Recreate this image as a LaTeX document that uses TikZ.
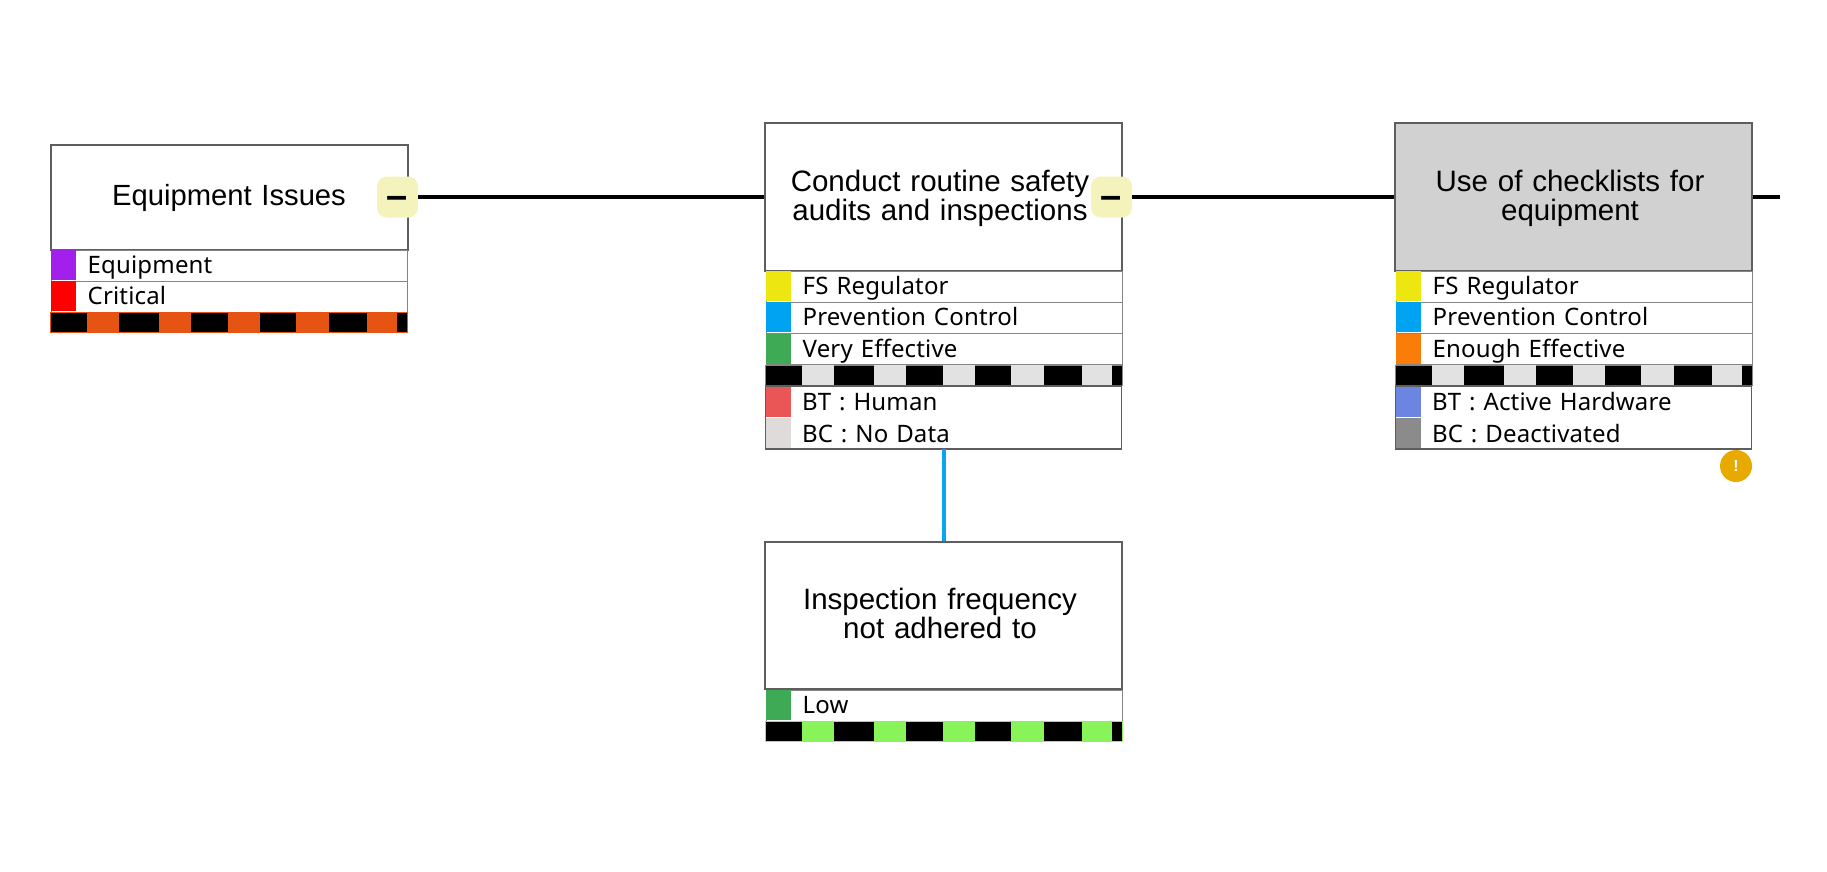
\documentclass[tikz,border=0pt]{standalone}
\usepackage{fontspec}
\setmainfont{Liberation Sans}
\newfontfamily\rowfont[LetterSpace=.7]{Noto Sans}
\definecolor{edgegray}{HTML}{5E5E5E}
\definecolor{rowgray}{HTML}{858585}
\definecolor{cellgray}{HTML}{D1D1D1}
\definecolor{btnyellow}{HTML}{F5F3BC}
\definecolor{linkblue}{HTML}{0AA5EE}
\definecolor{cpurple}{HTML}{A21FEC}
\definecolor{cred}{HTML}{FF0000}
\definecolor{cyellow}{HTML}{EEE611}
\definecolor{cblue}{HTML}{00A2F2}
\definecolor{cgreen}{HTML}{3FAA55}
\definecolor{corange}{HTML}{FA7D0A}
\definecolor{chuman}{HTML}{EA5555}
\definecolor{cnodata}{HTML}{E0DBDB}
\definecolor{chardware}{HTML}{6C85E0}
\definecolor{cdeact}{HTML}{8B8B8B}
\definecolor{stripor}{HTML}{E55412}
\definecolor{stripgr}{HTML}{E2E2E2}
\definecolor{stripli}{HTML}{88F45A}
\definecolor{badge}{HTML}{E8AA00}
\tikzset{
  titlebox/.style={draw=edgegray,line width=2pt,inner sep=0pt,minimum width=357pt,align=center,text width=357pt,font=\fontsize{29.5}{29}\selectfont},
  rowbox/.style={draw=rowgray,fill=white,line width=1.4pt,inner sep=0pt,anchor=north west,text width=356pt,text height=23.5pt,text depth=7.5pt,font=\rowfont\fontsize{24}{24}\selectfont},
  planerow/.style={rowbox,draw=none,fill=none,outer sep=0pt,text height=24.5pt,text depth=7pt},
  swatch/.style={anchor=north west,inner sep=0pt,minimum width=25pt,minimum height=30pt},
  stripbox/.style={fill=black,line width=1pt,inner sep=0pt,anchor=north west,minimum width=357pt,minimum height=20pt},
  minusbtn/.style={fill=btnyellow,rounded corners=10pt,inner sep=0pt,minimum width=41pt,minimum height=41pt,font=\bfseries\fontsize{38}{38}\selectfont},
  link/.style={line width=3.2pt,black},
  sublink/.style={line width=4pt,linkblue},
  warnbadge/.style={circle,fill=badge,text=white,inner sep=0pt,minimum size=32pt,font=\bfseries\fontsize{16}{16}\selectfont}
}
\newcommand\stripsegs{37/69,109/141,178/210,246/279,317/347}
\newcommand\lpad{\kern7pt}
\newcommand\toppad{\rule{0pt}{24pt}}
\newcommand\botpad{\rule[-7pt]{0pt}{7pt}}
\newcommand\minusmark{\raisebox{-11pt}[0pt][0pt]{--}}
\begin{document}
\begin{tikzpicture}[x=1pt,y=-1pt]
  \useasboundingbox (0,0) rectangle (1827,872);
  % titles
  \node[titlebox,minimum height=105pt,font=\fontsize{29.2}{29}\selectfont] (issue) at (229,197) {\toppad Equipment Issues\botpad};
  \node[titlebox,minimum height=147pt] (audit) at (943.5,197) {\toppad Conduct routine safety\lpad\\audits and inspections\lpad\botpad};
  \node[titlebox,minimum height=147pt,fill=cellgray] (check) at (1573.5,197) {\toppad Use of checklists for\lpad\\equipment\lpad\botpad};
  \node[titlebox,minimum height=147pt] (freq) at (943.5,615.5) {\toppad Inspection frequency\lpad\\not adhered to\lpad\botpad};
  \coordinate (rightend) at (1780,197);
  % rows
  \foreach \nm/\px/\py/\col/\txt in {
      issa/50/249.5/cpurple/Equipment,issb/50/280.5/cred/Critical,
      auda/765/270.5/cyellow/FS Regulator,audb/765/301.5/cblue/Prevention Control,audc/765/333/cgreen/Very Effective,
      chka/1395/270.5/cyellow/FS Regulator,chkb/1395/301.5/cblue/Prevention Control,chkc/1395/333/corange/Enough Effective,
      freqa/765/689.5/cgreen/Low}{
    \node[rowbox] (\nm) at (\px+.5,\py) {\hspace*{36.5pt}\txt};
    \node[swatch,fill=\col] (\nm sw) at (\px+1,\py+.5) {};
  }
  % strips
  \foreach \nm/\px/\py/\col/\brd in {issst/50/311.5/stripor/stripor,audst/765/364.5/stripgr/rowgray,chkst/1395/364.5/stripgr/rowgray,freqst/765/720.5/stripli/stripli}{
    \node[stripbox,draw=\brd] (\nm) at (\px,\py) {};
    \foreach \aa/\bb in \stripsegs
      \fill[\col] ([xshift=\aa pt]\nm.north west) rectangle ([xshift=\bb pt]\nm.south west);
  }
  % lower rows
  \foreach \nm/\px/\cola/\colb/\txa/\txb in {aud/765/chuman/cnodata/Human/No Data,chk/1395/chardware/cdeact/Active Hardware/Deactivated}{
    \node[planerow] (\nm bt) at (\px+.5,386) {\hspace*{36.5pt}BT : \txa};
    \node[planerow] (\nm bc) at (\px+.5,417.5) {\hspace*{36.5pt}BC : \txb};
    \node[swatch,fill=\cola] (\nm btsw) at (\px+1,386.5) {};
    \node[swatch,fill=\colb] (\nm bcsw) at (\px+1,417.5) {};
    \draw[edgegray,line width=1.6pt] (\nm bt.north west) rectangle (\nm bc.south east);
  }
  % buttons
  \node[minusbtn] (issbtn) at (397.5,197) {\minusmark};
  \node[minusbtn] (audbtn) at (1111.5,197) {\minusmark};
  \node[warnbadge] (warn) at (1736,466) {!};
  % connectors
  \draw[link] (issbtn) -- (audit);
  \draw[link] (audbtn) -- (check);
  \draw[link] (check) -- (rightend);
  \draw[sublink] (audbc.south -| audit.south) -- (freq.north);
\end{tikzpicture}
\end{document}
